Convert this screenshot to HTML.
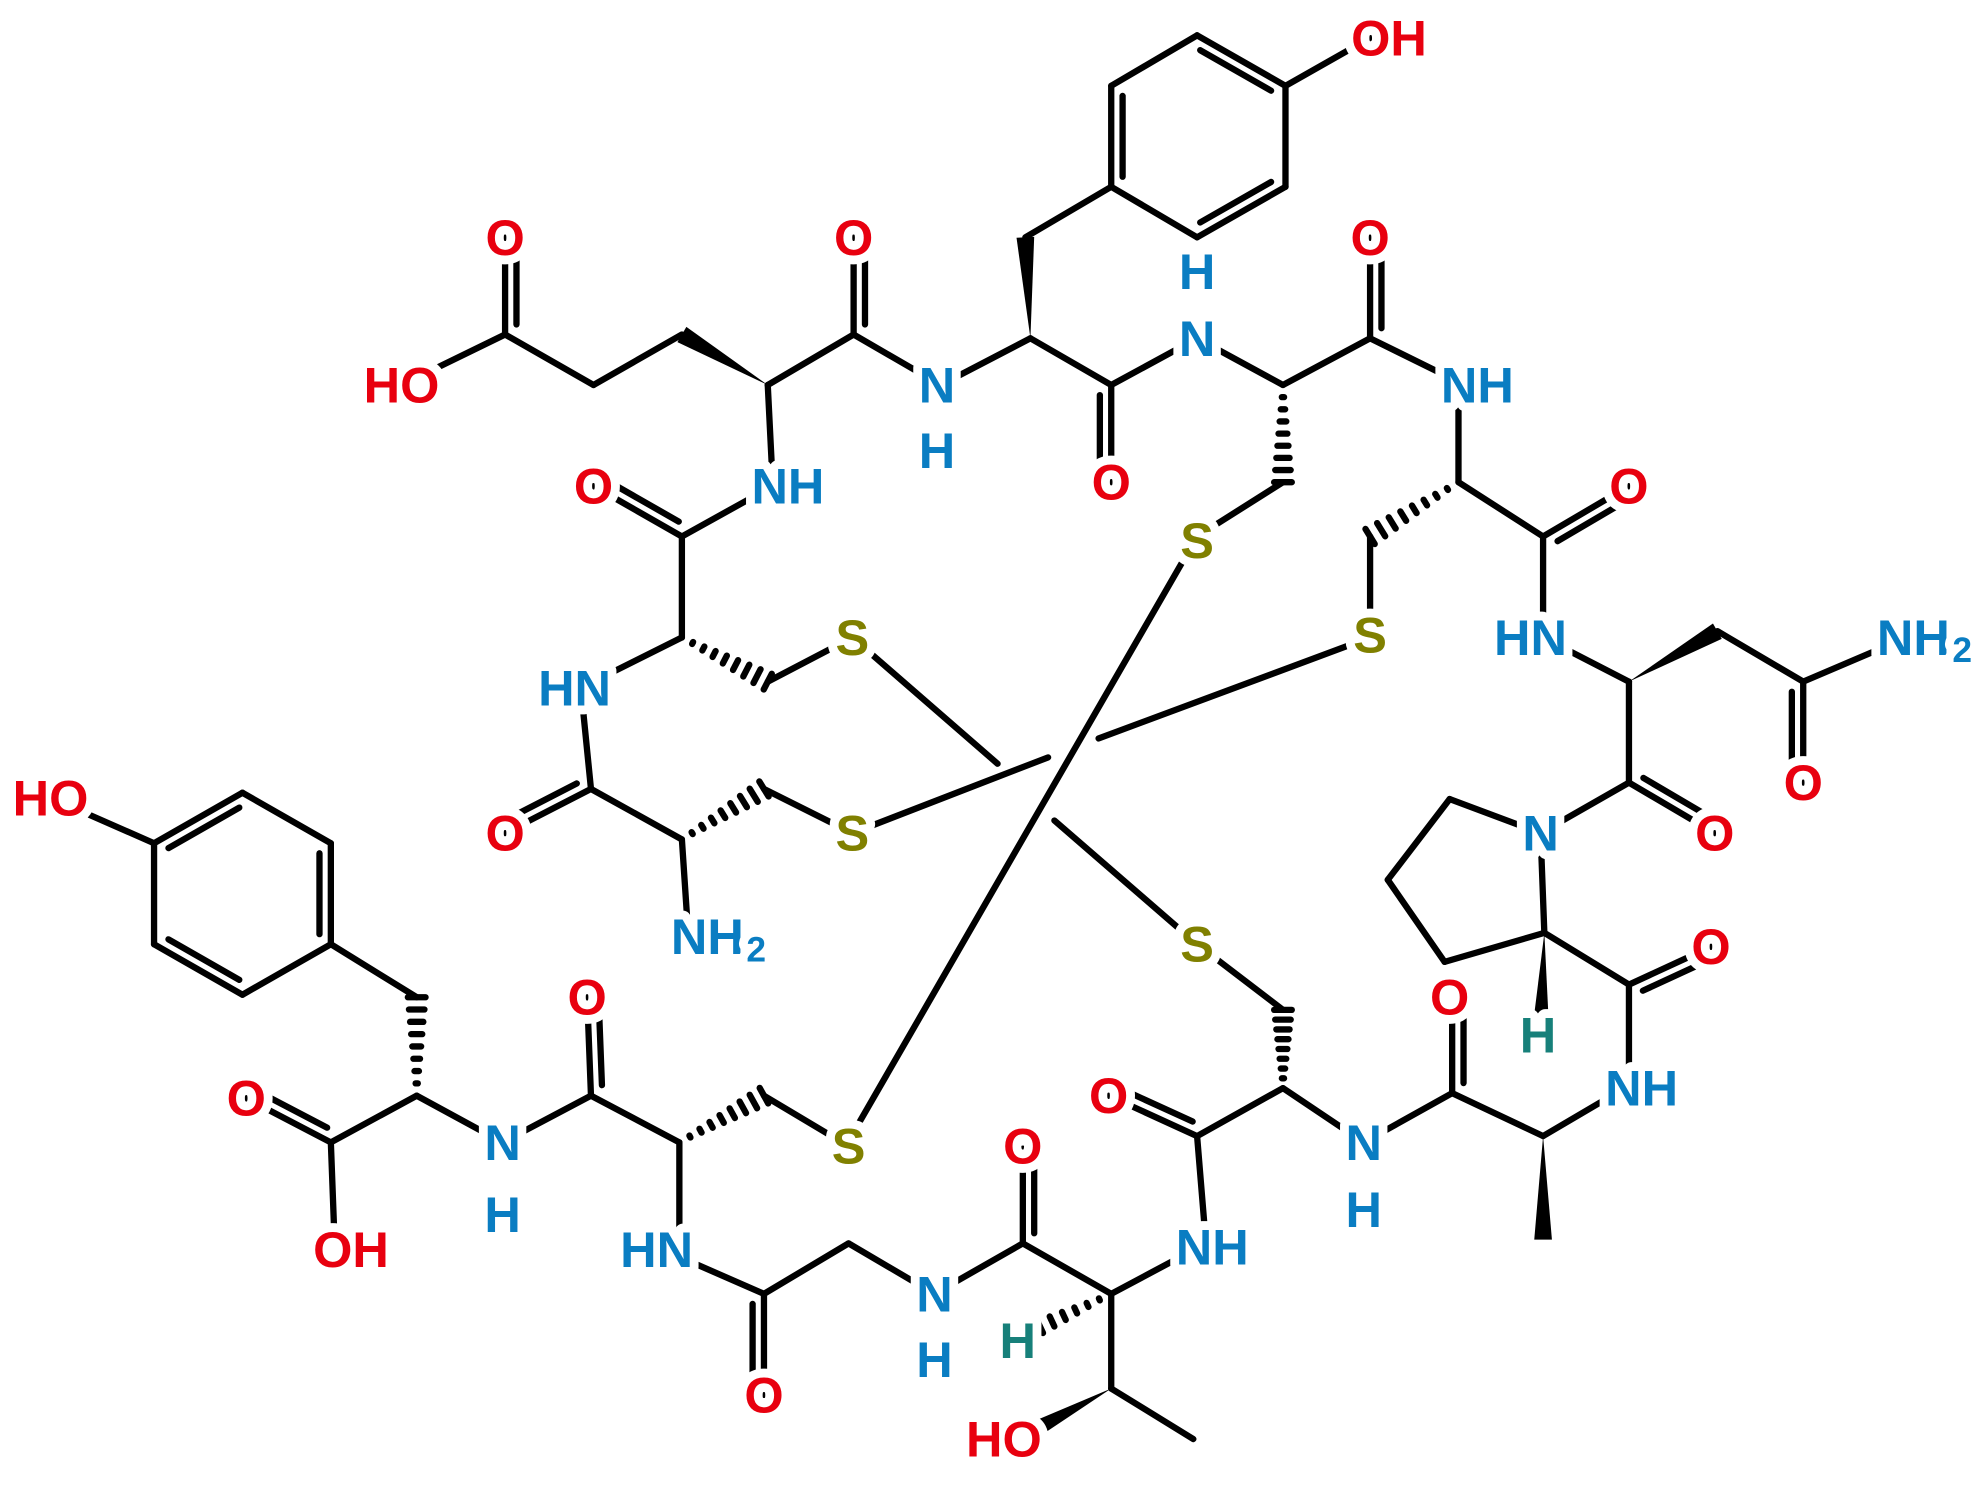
<!DOCTYPE html>
<html><head><meta charset="utf-8"><style>html,body{margin:0;padding:0;background:#fff}svg{display:block}</style></head>
<body>
<svg id="s" width="1980" height="1487" viewBox="0 0 1568 1178" preserveAspectRatio="none" xmlns="http://www.w3.org/2000/svg">
<g id="b" stroke="#000" stroke-width="5" stroke-linecap="round" fill="none"></g>
<g id="w"></g>
<g id="t" font-family="Liberation Sans, sans-serif" font-weight="bold" font-size="40" text-anchor="middle" dominant-baseline="central"></g>
</svg>
<script>
const NS="http://www.w3.org/2000/svg";
const B=document.getElementById('b'),W=document.getElementById('w'),T=document.getElementById('t');
function L(a,b,c,d){const e=document.createElementNS(NS,'line');e.setAttribute('x1',a);e.setAttribute('y1',b);e.setAttribute('x2',c);e.setAttribute('y2',d);B.appendChild(e);}
function D(a,b,c,d,side){L(a,b,c,d);let dx=c-a,dy=d-b,l=Math.hypot(dx,dy),nx=-dy/l*9*(side||1),ny=dx/l*9*(side||1);
 let sx=dx/l*8,sy=dy/l*8;L(a+nx+sx,b+ny+sy,c+nx-sx,d+ny-sy);}
function DR(a,b,c,d,cx,cy){let dx=c-a,dy=d-b,l=Math.hypot(dx,dy),nx=-dy/l,ny=dx/l;let mx=(a+c)/2,my=(b+d)/2;
 let s=((cx-mx)*nx+(cy-my)*ny)>0?1:-1;D(a,b,c,d,s);}
function Wd(a,b,c,d){let dx=c-a,dy=d-b,l=Math.hypot(dx,dy),nx=-dy/l*7,ny=dx/l*7;const p=document.createElementNS(NS,'polygon');
 p.setAttribute('points',`${a},${b} ${c+nx},${d+ny} ${c-nx},${d-ny}`);p.setAttribute('fill','#000');W.appendChild(p);}
function H(a,b,c,d){let dx=c-a,dy=d-b,l=Math.hypot(dx,dy),ux=-dy/l,uy=dx/l;for(let i=1;i<=8;i++){let f=i/8,x=a+dx*f,y=b+dy*f,h=7*f;L(x-ux*h,y-uy*h,x+ux*h,y+uy*h);}}
const col={O:'#e8000f',N:'#0a7dc2',S:'#808000',Hc:'#17807a'};
function X(x,y,s,c){const e=document.createElementNS(NS,'text');e.setAttribute('x',x);e.setAttribute('y',y);e.setAttribute('fill',col[c]);
 e.setAttribute('stroke','#fff');e.setAttribute('stroke-width','14');e.setAttribute('paint-order','stroke');e.setAttribute('stroke-linejoin','round');e.innerHTML=s;T.appendChild(e);}
// top tyrosine
L(880,68,948,28);DR(948,28,1018,68,949,108);L(1018,68,1018,148);DR(1018,148,948,188,949,108);L(948,188,880,148);DR(880,148,880,68,949,108);
L(1018,68,1085,30);L(880,148,812,188);Wd(816,268,812,188);
L(816,268,745,305);L(816,268,880,305);D(880,305,880,382);L(880,305,948,268);L(948,268,1016,305);H(1016,305,1016,382);L(1016,382,948,425);
L(1016,305,1085,268);D(1085,268,1085,188);L(1085,268,1160,305);L(1155,305,1155,382);H(1155,382,1085,425);L(1085,425,1085,500);
L(1155,382,1222,425);D(1222,425,1290,385);L(1222,425,1222,505);L(1222,505,1290,540);Wd(1290,540,1360,500);L(1360,500,1428,540);D(1428,540,1428,620);L(1428,540,1510,505);
L(1290,540,1290,620);D(1290,620,1358,660,-1);L(1290,620,1220,660);
L(1220,660,1148,633);L(1148,633,1099,697);L(1099,697,1144,762);L(1144,762,1223,739);L(1223,739,1220,660);Wd(1223,739,1220,820);
L(1223,739,1290,780);D(1290,780,1355,750);L(1290,780,1290,860);L(1290,860,1222,900);Wd(1222,900,1222,982);
L(1222,900,1150,866);D(1150,866,1150,795);L(1150,866,1080,905);L(1080,905,1016,862);H(1016,862,1016,800);L(1016,800,948,748);
L(1016,862,948,900);D(948,900,878,868);L(948,900,955,985);L(955,985,880,1025);H(880,1025,805,1060);L(880,1025,880,1100);Wd(880,1100,815,1135);L(880,1100,945,1140);
L(880,1025,810,985);D(810,985,810,910);L(810,985,740,1025);L(740,1025,672,985);L(672,985,605,1025);D(605,1025,605,1105);L(605,1025,525,990);
L(538,990,538,905);H(538,905,605,868);L(605,868,672,908);L(538,905,468,868);D(468,868,465,790);L(468,868,398,905);L(398,905,330,868);
H(330,868,330,790);L(330,790,262,748);
L(262,748,192,788);DR(192,788,122,748,192,708);L(122,748,122,668);DR(122,668,192,628,192,708);L(192,628,262,668);DR(262,668,262,748,192,708);L(122,668,40,632);
L(330,868,262,905);D(262,905,195,870);L(262,905,265,985);
// glu
L(318,305,400,265);D(400,265,400,188);L(400,265,470,305);L(470,305,540,265);Wd(608,305,540,265);L(608,305,676,265);D(676,265,676,188);L(676,265,745,305);
L(608,305,612,385);L(612,385,540,425);D(540,425,470,385);L(540,425,540,505);H(540,505,608,540);L(608,540,675,505);
L(540,505,460,545);L(460,545,468,625);D(468,625,400,660);L(468,625,540,665);H(540,665,605,625);L(605,625,675,660);L(540,665,545,740);
// disulfides
L(675,505,790,605);L(835,650,948,748);L(675,660,830,600);L(870,585,1085,505);L(948,425,680,890);
// labels
const N2='NH<tspan font-size="28" dx="2" dy="10">2</tspan>';
X(1100,30,'OH','O');X(880,382,'O','O');X(948,268,'N','N');X(948,215,'H','N');X(742,305,'N','N');X(742,357,'H','N');
X(1085,188,'O','O');X(1170,305,'NH','N');X(1290,385,'O','O');X(1212,505,'HN','N');X(1524,505,N2,'N');X(1428,620,'O','O');
X(1358,660,'O','O');X(1220,660,'N','N');X(1355,750,'O','O');X(1218,820,'H','Hc');X(1148,790,'O','O');X(1300,862,'NH','N');
X(1080,905,'N','N');X(1080,958,'H','N');X(878,868,'O','O');X(960,988,'NH','N');X(806,1062,'H','Hc');X(795,1140,'HO','O');
X(810,908,'O','O');X(740,1025,'N','N');X(740,1077,'H','N');X(605,1105,'O','O');X(520,990,'HN','N');X(672,908,'S','S');
X(465,790,'O','O');X(398,905,'N','N');X(398,962,'H','N');X(195,870,'O','O');X(278,990,'OH','O');X(40,632,'HO','O');
X(318,305,'HO','O');X(400,188,'O','O');X(676,188,'O','O');X(624,385,'NH','N');X(470,385,'O','O');X(675,505,'S','S');
X(455,545,'HN','N');X(400,660,'O','O');X(675,660,'S','S');X(569,742,N2,'N');
X(948,428,'S','S');X(1085,503,'S','S');X(948,748,'S','S');
</script>
</body></html>
